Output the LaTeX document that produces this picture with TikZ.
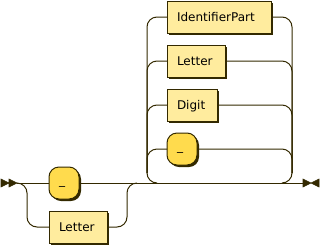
\documentclass[tikz,border=0pt]{standalone}
\usepackage{fontspec}
\setmainfont{DejaVu Sans}
\usetikzlibrary{shadows}
\definecolor{ink}{HTML}{332900}
\definecolor{ntfill}{HTML}{FFEC9E}
\definecolor{tfill}{HTML}{FFDB4D}
\newcommand{\usc}{\raisebox{2.5pt}{\_}}
\begin{document}
\begin{tikzpicture}[x=1pt, y=-1pt, line width=1pt, color=ink,
    rc/.style={rounded corners=10pt},
    box/.style={draw=ink, text=black, anchor=west, outer sep=0pt,
        minimum height=32pt, inner xsep=10pt, inner ysep=0pt,
        text height=8pt, text depth=0pt, align=left,
        font=\fontsize{12}{14}\selectfont,
        drop shadow={shadow xshift=2pt, shadow yshift=-2pt, opacity=1, fill=ink}},
    nonterm/.style={box, fill=ntfill},
    term/.style={box, fill=tfill, rounded corners=10pt}]
    \useasboundingbox (0,0) rectangle (321,247);

    % ==================== MARKS ====================
    \filldraw[line width=0.6pt] (1,179) -- (9,183) -- (1,187) -- cycle
        (9,179) -- (17,183) -- (9,187) -- cycle;
    \filldraw[line width=0.6pt] (311,183) -- (303,179) -- (303,187) -- cycle
        (311,183) -- (319,179) -- (319,187) -- cycle;
    \coordinate (st) at (17,183);
    \coordinate (en) at (303,183);

    % ==================== FIRST CHOICE ====================
    \node[term, text width=10pt] (usA) at (49,183) {\usc};
    \node[nonterm, text width=38pt] (ltrA) at (49,227) {Letter};
    \coordinate (jnx) at (127,183);
    \coordinate (jn) at (137,183);

    % ==================== LOOP ====================
    \node[nonterm, text width=84pt] (idp) at (167,17) {IdentifierPart};
    \node[nonterm, text width=38pt] (ltrB) at (167,61) {Letter};
    \node[nonterm, text width=30pt] (dgt) at (167,105) {Digit};
    \node[term, text width=10pt] (usB) at (167,149) {\usc};
    \coordinate (lpL) at (147,183);
    \coordinate (lpR) at (292,183);
    \coordinate (lpLb) at (147,173);
    \coordinate (lpRb) at (292,173);
    \coordinate (lpin) at (157,183);
    \coordinate (lpout) at (282,183);

    % main line
    \draw (st) -- (usA.west);
    \draw (usA.east) -- (en);
    % lower branch
    \draw[rc] (st) -- ++(10,0) |- (ltrA.west);
    \draw[rc] (ltrA.east) -| (jnx) -- (jn);
    % loop branches
    \draw[rc] (lpin) -- (lpL) |- (idp.west);
    \draw[rc] (idp.east) -| (lpR) -- (lpout);
    \foreach \n in {ltrB, dgt, usB} {
        \draw[rc] (lpLb) |- (\n.west);
        \draw[rc] (\n.east) -| (lpRb);
    }
\end{tikzpicture}
\end{document}
